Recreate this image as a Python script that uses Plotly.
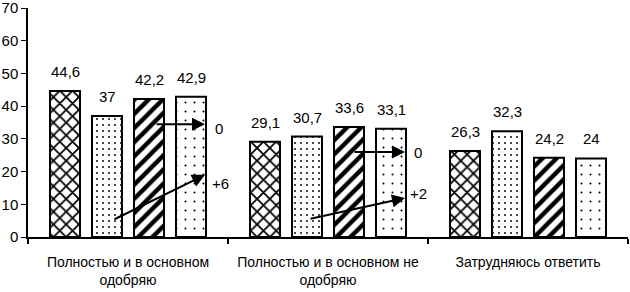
import plotly.graph_objects as go

categories = ["Полностью и в основном<br>одобряю",
              "Полностью и в основном не<br>одобряю",
              "Затрудняюсь ответить"]
series1 = [44.6, 29.1, 26.3]
series2 = [37.0, 30.7, 32.3]
series3 = [42.2, 33.6, 24.2]
series4 = [42.9, 33.1, 24.0]
y_ticks = [0, 10, 20, 30, 40, 50, 60, 70]

# change arrows: (x_from, y_from, x_to, y_to, label, label_x, label_y)
arrow_specs = [
    (0.135, 34.5, 0.385, 34.5, "0", 0.455, 33.3),
    (-0.075, 5.2, 0.385, 19.0, "+6", 0.46, 16.5),
    (1.125, 26.0, 1.385, 26.0, "0", 1.45, 25.7),
    (0.905, 5.5, 1.385, 11.9, "+2", 1.45, 13.4),
]

FONT = "Liberation Sans Narrow, Arial Narrow, Liberation Sans, Arial"

patterns = [
    dict(shape="x", size=9, solidity=0.35),
    dict(shape=".", size=6, solidity=0.08),
    dict(shape="/", size=10, solidity=0.45),
    dict(shape=".", size=9, solidity=0.04),
]

fig = go.Figure()
all_series = [series1, series2, series3, series4]
for i, s in enumerate(all_series):
    p = patterns[i]
    fig.add_trace(go.Bar(
        x=categories, y=s,
        marker=dict(color="white",
                    line=dict(color="black", width=2),
                    pattern=dict(shape=p["shape"], size=p["size"], solidity=p["solidity"],
                                 fgcolor="black", bgcolor="white", fillmode="replace")),
        showlegend=False, hoverinfo="skip"))

annotations = []
n = len(all_series)
slot = (1 - 0.16) / n
for i, s in enumerate(all_series):
    for j, v in enumerate(s):
        xpos = j - (1 - 0.16) / 2 + slot * (i + 0.5)
        annotations.append(dict(
            x=xpos, y=v, xref="x", yref="y",
            text=f"{v:g}".replace(".", ","), showarrow=False,
            yanchor="bottom", yshift=9,
            font=dict(family=FONT, size=15, color="black")))

for (x0, y0, x1, y1, lab, lx, ly) in arrow_specs:
    annotations.append(dict(
        x=x1, y=y1, ax=x0, ay=y0, xref="x", yref="y", axref="x", ayref="y",
        text="", showarrow=True, arrowhead=2, arrowsize=1.3, arrowwidth=2,
        arrowcolor="black", standoff=0))
    annotations.append(dict(
        x=lx, y=ly, xref="x", yref="y", text=lab, showarrow=False,
        xanchor="center", yanchor="middle",
        font=dict(family=FONT, size=15, color="black")))

fig.update_layout(
    width=630, height=292,
    margin=dict(l=28, r=2, t=8, b=55, autoexpand=False),
    paper_bgcolor="white", plot_bgcolor="white",
    barmode="group", bargap=0.16, bargroupgap=0.286,
    font=dict(family=FONT, size=14, color="black"),
    annotations=annotations,
    xaxis=dict(type="category", showline=True, linecolor="black", linewidth=2,
               ticks="outside", tickson="boundaries", ticklen=5, tickcolor="black",
               tickwidth=1.5, showgrid=False, ticklabelstandoff=11, tickangle=0,
               automargin=False,
               tickfont=dict(family=FONT, size=14, color="black"),
               range=[-0.5, 2.5]),
    yaxis=dict(range=[0, 70], tickvals=y_ticks, showline=True, linecolor="black",
               linewidth=1.5, ticks="outside", ticklen=5, tickcolor="black",
               showgrid=False, zeroline=False, automargin=False,
               ticklabeloverflow="allow",
               tickfont=dict(family=FONT, size=15, color="black")),
)

fig.write_html("out.html", config={"displayModeBar": False},
               post_script="document.body.style.margin='0px';")
